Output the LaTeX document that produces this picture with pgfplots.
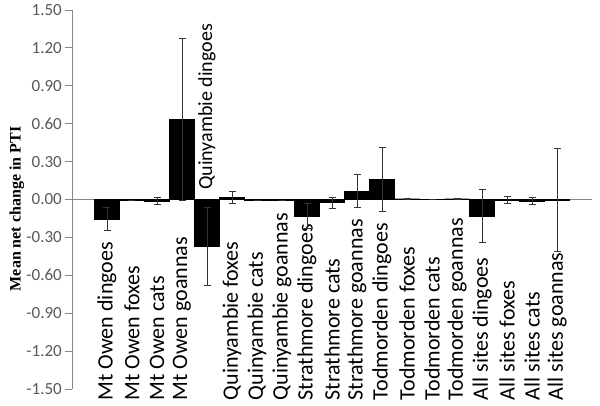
\documentclass[border=0pt]{standalone}
\usepackage{pgfplots}
\pgfplotsset{compat=1.18}
\usepackage{pgfplotstable}
\usepackage{fontspec}
\setmainfont{Carlito}
\newfontfamily\labelfont{Liberation Serif}

\definecolor{axisgray}{HTML}{868686}
\definecolor{tickgray}{HTML}{595959}

% mean net change in PTI, with error (both directions)
\pgfplotstableread{
x y e
0 -0.155 0.090
1 -0.004 0.000
2 -0.012 0.025
3 0.635 0.640
4 -0.370 0.310
5 0.017 0.045
6 -0.004 0.000
7 -0.004 0.000
8 -0.130 0.100
9 -0.025 0.045
10 0.065 0.130
11 0.160 0.255
12 0.006 0.004
13 0.000 0.000
14 0.006 0.004
15 -0.130 0.210
16 -0.004 0.027
17 -0.012 0.025
18 -0.005 0.410
}\ptidata

\begin{document}
\begin{tikzpicture}
\useasboundingbox (0,0) rectangle (600pt,406pt);
\begin{axis}[
  at={(72pt,17pt)}, anchor=south west,
  scale only axis, width=520pt, height=379pt,
  xmin=-1.4, xmax=19.4, ymin=-1.5, ymax=1.5,
  clip=false,
  axis y line*=left, axis x line*=bottom,
  x axis line style={draw=none},
  y axis line style={axisgray, line width=0.8pt},
  tick align=outside, major tick length=7pt,
  ytick={-1.5,-1.2,-0.9,-0.6,-0.3,0,0.3,0.6,0.9,1.2,1.5},
  yticklabels={-1.50,-1.20,-0.90,-0.60,-0.30,0.00,0.30,0.60,0.90,1.20,1.50},
  ytick style={axisgray, line width=0.8pt},
  yticklabel style={font=\fontsize{17}{19}\selectfont, color=tickgray, inner sep=0pt, xshift=-3pt},
  xtick={0,...,18},
  xtick style={draw=none},
  xticklabels={Mt Owen dingoes, Mt Owen foxes, Mt Owen cats, Mt Owen goannas, ,
    Quinyambie foxes, Quinyambie cats, Quinyambie goannas,
    Strathmore dingoes, Strathmore cats, Strathmore goannas,
    Todmorden dingoes, Todmorden foxes, Todmorden cats, Todmorden goannas,
    All sites dingoes, All sites foxes, All sites cats, All sites goannas},
  xticklabel style={rotate=90, anchor=west, inner sep=0pt, xshift=-4.5pt, font=\fontsize{22}{25}\selectfont},
  ylabel={Mean net change in PTI},
  ylabel style={font=\labelfont\bfseries\fontsize{16}{18}\selectfont,
    at={(axis description cs:-0.106,0.475)}, anchor=center},
]
\addplot[sharp plot, axisgray, line width=0.8pt, forget plot] coordinates {(-1.4,0) (19.4,0)};
\addplot[ybar, bar width=1, fill=black, draw=black, line width=0.4pt,
  error bars/.cd, y dir=both, y explicit,
  error mark=|,
  error bar style={color=black!80, line width=0.9pt},
  error mark options={solid, color=black!80, line width=0.9pt, mark size=3.5pt}]
  table[x=x, y=y, y error=e] {\ptidata};
\node[rotate=90, anchor=west, inner sep=0pt, font=\fontsize{20}{23}\selectfont]
  at (axis cs:4,0.075) {Quinyambie dingoes};
\end{axis}
\end{tikzpicture}
\end{document}
